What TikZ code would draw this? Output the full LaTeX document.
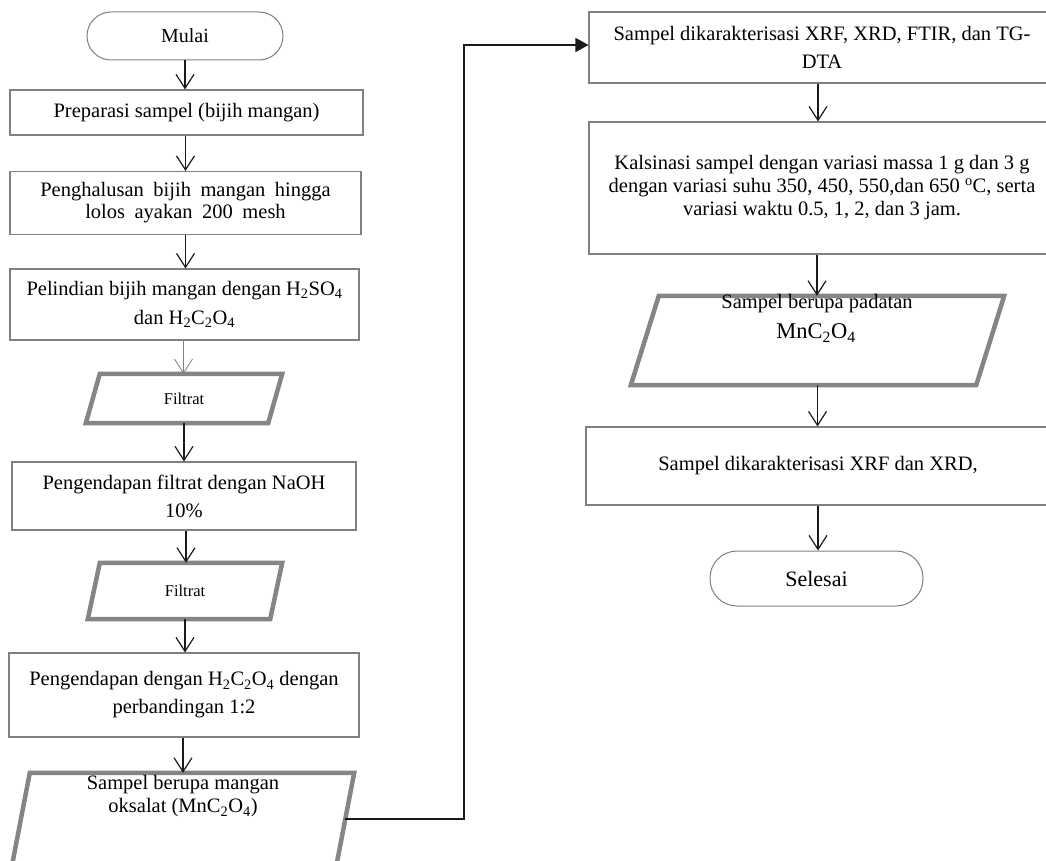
\documentclass[tikz,border=0pt]{standalone}
\usepackage{fontspec}
\setmainfont{Liberation Serif}
\usetikzlibrary{arrows.meta,calc}
\definecolor{bordergray}{HTML}{808080}
\definecolor{paragray}{HTML}{858585}
\definecolor{linedark}{HTML}{1A1A1A}
\newcommand{\widespaces}{\spaceskip=9.5pt\relax}
\begin{document}
\begin{tikzpicture}[x=1pt,y=-1pt,
  box/.style={draw=bordergray, line width=1.1pt, rectangle, inner sep=0pt, align=center, font=\fontsize{20.5}{23}\selectfont},
  term/.style={draw=bordergray, line width=1pt, rectangle, rounded corners=24pt, inner sep=0pt},
  para/.style={draw=none, inner sep=0pt, align=center},
  parapath/.style={draw=paragray, line width=4.5pt, line join=miter},
  lbl/.style={inner sep=0pt, align=center, font=\fontsize{20.5}{23}\selectfont},
  flow/.style={draw=linedark, line width=1.2pt, -{Straight Barb[length=14pt,width=18pt,line width=1.2pt]}},
  flowgrey/.style={draw=bordergray, line width=0.8pt, -{Straight Barb[length=14pt,width=18pt,line width=0.8pt]}},
  conn/.style={draw=linedark, line width=1.5pt, -{Triangle[length=13pt,width=14pt]}},
]
\useasboundingbox (0,0) rectangle (1046,861);
\clip (0,0) rectangle (1046,861);
\fill[white] (0,0) rectangle (1046,861);

% ---------- left column ----------
\node[term, minimum width=196pt, minimum height=48pt, font=\fontsize{20}{22}\selectfont] (start) at (185,36) {Mulai};
\node[box, minimum width=353pt, minimum height=45pt] (b1) at (186.5,112.5) {Preparasi sampel (bijih mangan)};
\node[box, minimum width=351pt, minimum height=63pt, font=\fontsize{20.5}{22}\selectfont\widespaces] (b2) at (185.5,203) {Penghalusan bijih mangan hingga\\lolos ayakan 200 mesh};
\node[box, minimum width=349pt, minimum height=71pt, font=\fontsize{20.5}{29}\selectfont] (b3) at (184.5,304.5) {Pelindian bijih mangan dengan H\textsubscript{2}SO\textsubscript{4}\\dan H\textsubscript{2}C\textsubscript{2}O\textsubscript{4}};

\node[para, minimum width=182pt, minimum height=49pt, font=\fontsize{16.5}{19}\selectfont] (p1) at (184,398.5) {Filtrat};
\draw[parapath] ([xshift=7pt]p1.north west) -- ([xshift=7pt]p1.north east) -- ([xshift=-7pt]p1.south east) -- ([xshift=-7pt]p1.south west) -- cycle;

\node[box, minimum width=344pt, minimum height=68pt, font=\fontsize{20.5}{28}\selectfont] (b4) at (184,496) {Pengendapan filtrat dengan NaOH\\10\%};

\node[para, minimum width=182pt, minimum height=56pt, font=\fontsize{16.5}{19}\selectfont] (p2) at (185,591) {Filtrat};
\draw[parapath] ([xshift=6pt]p2.north west) -- ([xshift=6pt]p2.north east) -- ([xshift=-6pt]p2.south east) -- ([xshift=-6pt]p2.south west) -- cycle;

\node[box, minimum width=350pt, minimum height=84pt, font=\fontsize{20.5}{28}\selectfont] (b5) at (184,695) {Pengendapan dengan H\textsubscript{2}C\textsubscript{2}O\textsubscript{4} dengan\\perbandingan 1:2};

\node[para, minimum width=324pt, minimum height=127pt] (p3) at (179.75,836.5) {};
\draw[parapath] ([xshift=12.25pt]p3.north west) -- ([xshift=12.25pt]p3.north east) -- ([xshift=-12.25pt]p3.south east) -- ([xshift=-12.25pt]p3.south west) -- cycle;
\node[lbl] (p3t) at (183,796.5) {Sampel berupa mangan\\oksalat (MnC\textsubscript{2}O\textsubscript{4})};

% ---------- right column ----------
\node[box, minimum width=466pt, minimum height=71pt, font=\fontsize{20.5}{28}\selectfont] (b6) at (822,47.5) {Sampel dikarakterisasi XRF, XRD, FTIR, dan TG-\\DTA};
\node[box, minimum width=466pt, minimum height=132pt] (b7) at (822,188) {Kalsinasi sampel dengan variasi massa 1 g dan 3 g\\dengan variasi suhu 350, 450, 550,dan 650 \textsuperscript{o}C, serta\\variasi waktu 0.5, 1, 2, dan 3 jam.};

\node[para, minimum width=345pt, minimum height=89pt] (p4) at (817.5,340.5) {};
\draw[parapath] ([xshift=14pt]p4.north west) -- ([xshift=14pt]p4.north east) -- ([xshift=-14pt]p4.south east) -- ([xshift=-14pt]p4.south west) -- cycle;
\node[lbl] (p4a) at (817,304) {Sampel berupa padatan};
\node[lbl, font=\fontsize{22.5}{25}\selectfont] (p4b) at (816,333) {MnC\textsubscript{2}O\textsubscript{4}};

\node[box, minimum width=464pt, minimum height=78pt] (b8) at (818,466) {Sampel dikarakterisasi XRF dan XRD,};
\node[term, minimum width=213pt, minimum height=55pt, rounded corners=27pt, font=\fontsize{22}{25}\selectfont] (end) at (816.5,578.5) {Selesai};

% ---------- connectors ----------
\draw[flow] (start.south) -- (start.south |- b1.north);
\draw[flow] ([xshift=-1pt]b1.south) -- ([xshift=-1pt]b1.south |- b2.north);
\draw[flow] (b2.south) -- (b2.south |- b3.north);
\draw[flowgrey] ([xshift=-1pt]b3.south) -- ([xshift=-1pt]b3.south |- p1.north);
\draw[flow] (p1.south) -- (p1.south |- b4.north);
\draw[flow] ([xshift=2pt]b4.south) -- ([xshift=2pt]b4.south |- p2.north);
\draw[flow] (p2.south) -- (p2.south |- b5.north);
\draw[flow] ([xshift=-1pt]b5.south) -- ([xshift=-1pt]b5.south |- p3.north);

\coordinate (bend) at (464,45);
\draw[conn] ($([xshift=12.25pt]p3.north east)!0.3622!([xshift=-12.25pt]p3.south east)$) -| (bend) -- (bend -| b6.west);

\draw[flow] ([xshift=-4pt]b6.south) -- ([xshift=-4pt]b6.south |- b7.north);
\draw[flow] ([xshift=-5pt]b7.south) -- ([xshift=-5pt]b7.south |- p4.north);
\draw[flow] (p4.south) -- (p4.south |- b8.north);
\draw[flow] (b8.south) -- (b8.south |- end.north);
\end{tikzpicture}
\end{document}
